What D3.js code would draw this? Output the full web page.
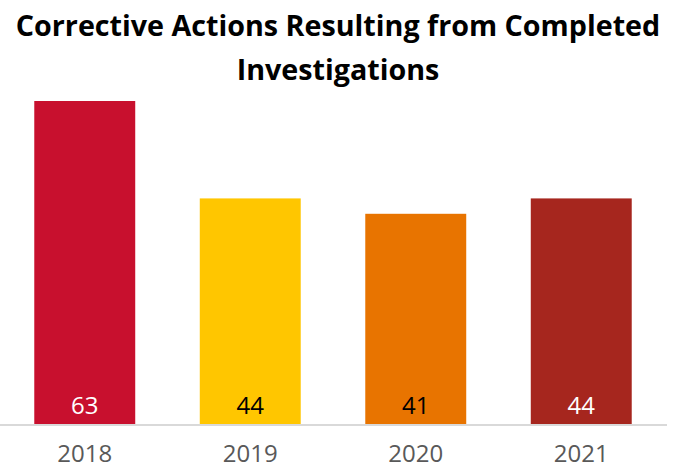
<!DOCTYPE html>
<html>
<head>
<meta charset="utf-8">
<script src="https://cdn.jsdelivr.net/npm/d3@7"></script>
<style>
  html, body { margin: 0; padding: 0; background: #fff; }
  svg { display: block; font-family: "Open Sans", "Noto Sans", sans-serif; }
</style>
</head>
<body>
<svg id="chart" width="678" height="468"></svg>
<script>
// Corrective actions per year
const years = ["2018", "2019", "2020", "2021"];
const actions = [63, 44, 41, 44];
const barColors = ["#C8102E", "#FFC600", "#E87400", "#A6261E"];
const labelColors = ["#ffffff", "#000000", "#000000", "#ffffff"];
const titleLines = ["Corrective Actions Resulting from Completed", "Investigations"];

const svg = d3.select("#chart");
const baseline = 424;

const x = d3.scaleBand()
  .domain(years)
  .range([2, 664])
  .paddingInner(0.39)
  .paddingOuter(0.195);

const y = d3.scaleLinear()
  .domain([0, d3.max(actions)])
  .range([baseline, 101]);

// Title
svg.append("g")
  .selectAll("text")
  .data(titleLines)
  .join("text")
  .attr("x", 338)
  .attr("y", (d, i) => 36 + i * 44)
  .attr("text-anchor", "middle")
  .attr("font-size", 28.7)
  .attr("font-weight", 700)
  .attr("fill", "#000")
  .text(d => d);

// Bars
const data = years.map((yr, i) => ({ yr, v: actions[i], c: barColors[i], lc: labelColors[i] }));

svg.append("g")
  .selectAll("rect")
  .data(data)
  .join("rect")
  .attr("x", d => x(d.yr))
  .attr("width", x.bandwidth())
  .attr("y", d => y(d.v))
  .attr("height", d => y(0) - y(d.v))
  .attr("fill", d => d.c);

// Value labels inside the bar bottoms
svg.append("g")
  .selectAll("text")
  .data(data)
  .join("text")
  .attr("x", d => x(d.yr) + x.bandwidth() / 2)
  .attr("y", 414)
  .attr("text-anchor", "middle")
  .attr("font-size", 24)
  .attr("fill", d => d.lc)
  .text(d => d.v);

// Category axis
const axis = svg.append("g")
  .attr("transform", `translate(0,${baseline})`)
  .call(d3.axisBottom(x).tickSize(0).tickPadding(0));
axis.select(".domain").remove();
axis.append("line")
  .attr("x1", 0).attr("x2", 667)
  .attr("y1", 1).attr("y2", 1)
  .attr("stroke", "#d9d9d9")
  .attr("stroke-width", 2);
axis.selectAll(".tick text")
  .attr("y", 38)
  .attr("dy", 0)
  .attr("font-size", 24)
  .attr("font-family", "'Open Sans', 'Noto Sans', sans-serif")
  .attr("fill", "#595959");
</script>
</body>
</html>
